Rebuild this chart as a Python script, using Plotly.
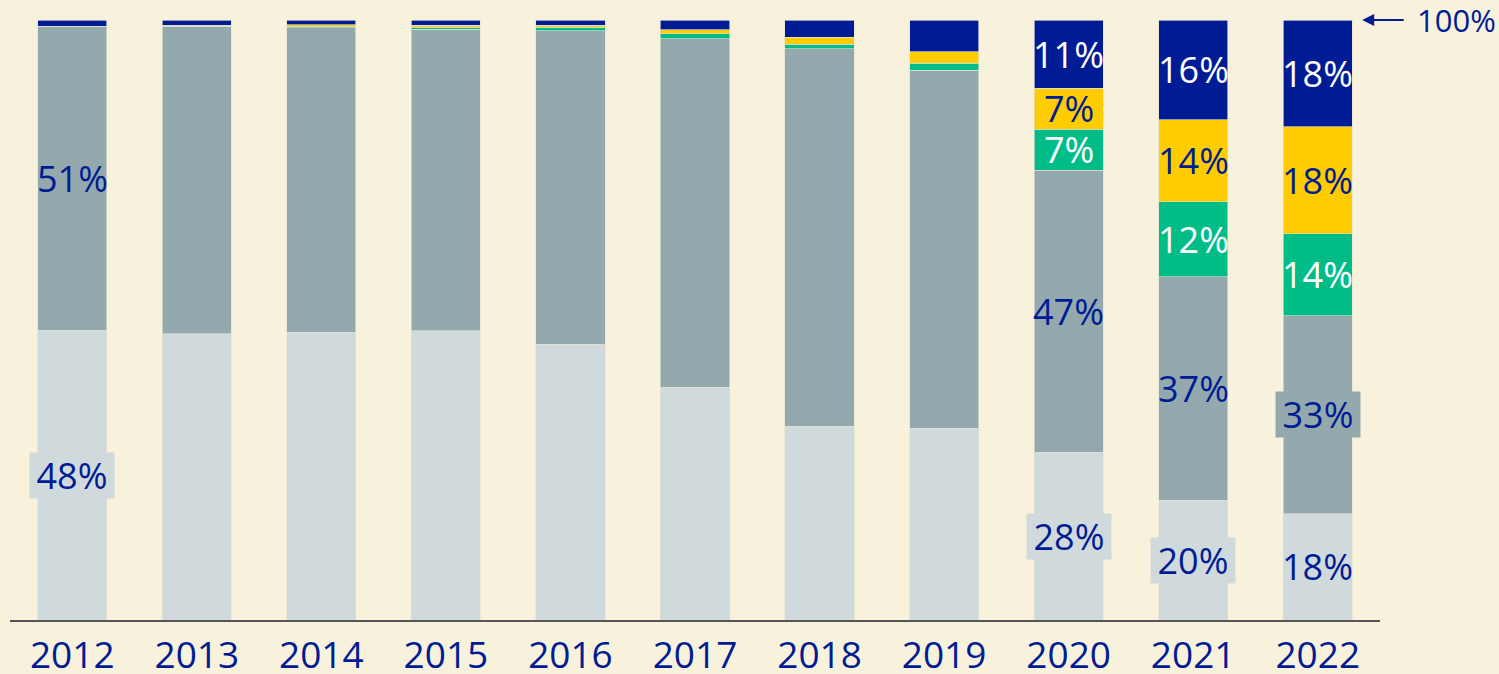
import plotly.graph_objects as go

years = ["2012", "2013", "2014", "2015", "2016", "2017", "2018", "2019", "2020", "2021", "2022"]

light = [48.3, 47.7, 48.0, 48.2, 46.0, 38.8, 32.3, 32.0, 28.0, 20.0, 17.7]
dark = [50.7, 51.2, 50.7, 50.3, 52.2, 58.1, 62.9, 59.6, 47.0, 37.2, 33.0]
green = [0.0, 0.1, 0.2, 0.3, 0.6, 0.8, 0.8, 1.2, 6.8, 12.5, 13.7]
yellow = [0.0, 0.1, 0.3, 0.3, 0.3, 0.7, 1.1, 1.9, 6.8, 13.7, 17.8]
blue = [1.0, 0.9, 0.8, 0.9, 0.9, 1.6, 2.9, 5.3, 11.4, 16.6, 17.8]

light_labels = ["48%", "", "", "", "", "", "", "", "28%", "20%", "18%"]
dark_labels = ["51%", "", "", "", "", "", "", "", "47%", "37%", "33%"]
green_labels = ["", "", "", "", "", "", "", "", "7%", "12%", "14%"]
yellow_labels = ["", "", "", "", "", "", "", "", "7%", "14%", "18%"]
blue_labels = ["", "", "", "", "", "", "", "", "11%", "16%", "18%"]

# which labels get a background box
light_boxed = ["2012", "2020", "2021"]
dark_boxed = ["2022"]

BG = "#f8f2dc"
NAVY = "#001c95"
C_LIGHT = "#d0d9dc"
C_DARK = "#93a9ad"
C_GREEN = "#00bd88"
C_YELLOW = "#ffcc00"
C_BLUE = "#001c95"
FONT = "Open Sans"

series = [
    (light, C_LIGHT, light_labels, NAVY, light_boxed),
    (dark, C_DARK, dark_labels, NAVY, dark_boxed),
    (green, C_GREEN, green_labels, "white", []),
    (yellow, C_YELLOW, yellow_labels, NAVY, []),
    (blue, C_BLUE, blue_labels, "white", []),
]

fig = go.Figure()
annotations = []
base = [0.0] * len(years)
for vals, col, labels, tcol, boxed in series:
    fig.add_trace(go.Bar(
        x=years, y=vals,
        marker=dict(color=col, line=dict(width=0.8, color="rgba(225,225,210,0.8)")),
        hoverinfo="skip", showlegend=False,
    ))
    for i, (yr, v, lab) in enumerate(zip(years, vals, labels)):
        if lab:
            ann = dict(x=i, y=base[i] + v / 2, xref="x", yref="y", text=lab,
                       showarrow=False, font=dict(family=FONT, size=36, color=tcol),
                       xanchor="center", yanchor="middle")
            if yr in boxed:
                ann.update(bgcolor=col, width=84, height=45, borderpad=0)
            annotations.append(ann)
    base = [b + v for b, v in zip(base, vals)]

# 100% marker
annotations.append(dict(x=0.987, y=100, xref="paper", yref="y", text="", showarrow=True,
                        ax=43, ay=0, axref="pixel", ayref="pixel", arrowhead=2, arrowsize=1.2,
                        arrowwidth=2, arrowcolor=NAVY))
annotations.append(dict(x=1.0255, y=100, xref="paper", yref="y", text="100%", showarrow=False,
                        xanchor="left", yanchor="middle",
                        font=dict(family=FONT, size=31, color=NAVY)))

fig.update_layout(
    width=1499, height=674,
    margin=dict(l=10, r=119, t=20, b=54, autoexpand=False),
    paper_bgcolor=BG, plot_bgcolor=BG,
    barmode="stack", bargap=0.445,
    annotations=annotations,
    xaxis=dict(type="category", range=[-0.5, 10.5], showgrid=False, showline=True,
               linecolor="#555555", linewidth=2, ticks="", ticklabelstandoff=2,
               automargin=False,
               tickfont=dict(family=FONT, size=37, color=NAVY), fixedrange=True),
    yaxis=dict(range=[0, 100], visible=False, showgrid=False, zeroline=False,
               automargin=False, fixedrange=True),
    font=dict(family=FONT),
)

fig.write_html("out.html", config={"displayModeBar": False},
               post_script="document.body.style.margin='0';document.body.style.overflow='hidden';")
